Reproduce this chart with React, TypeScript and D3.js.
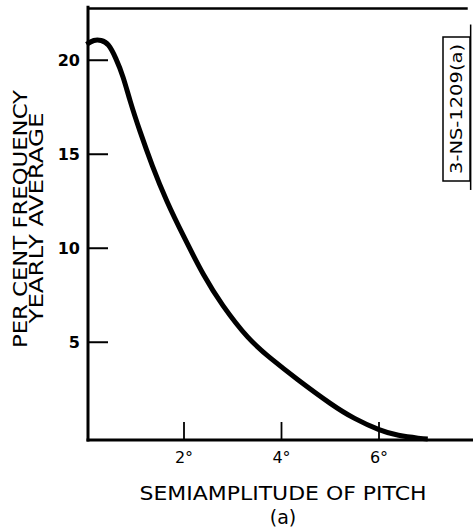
import React from 'react';
import * as d3 from 'd3';

// values (semiamplitude in degrees, per cent frequency)
const pitchDeg = [0, 0.15, 0.3, 0.45, 0.6, 0.75, 0.9, 1.1, 1.35, 1.65, 2.0, 2.4, 2.8, 3.3, 3.8, 4.35, 5.0, 5.5, 6.0, 6.4, 6.8, 7.0];
const percentFreq = [20.85, 21.05, 21.05, 20.8, 20.1, 19.1, 17.8, 16.2, 14.4, 12.5, 10.6, 8.6, 6.95, 5.3, 4.1, 2.98, 1.75, 0.95, 0.35, 0.05, -0.1, -0.15];
const xTicks = [2, 4, 6];
const xTickLabels = ['2°', '4°', '6°'];
const yTicks = [5, 10, 15, 20];
const yTickLabels = ['5', '10', '15', '20'];

const W = 473;
const H = 532;

export default function App() {
  const x = d3.scaleLinear().domain([0, 7.92]).range([86.5, 472.6]);
  const y = d3.scaleLinear().domain([-0.2, 22.8]).range([440, 7.6]);

  const pts = pitchDeg.map((d, i) => [d, percentFreq[i]] as [number, number]);
  const line = d3.line<[number, number]>()
    .x(d => x(d[0]))
    .y(d => y(d[1]))
    .curve(d3.curveNatural);

  const x0 = x(0) + 1.5;
  const yBase = y(-0.2);
  const font = '"DejaVu Sans", sans-serif';

  return (
    <svg width={W} height={H} style={{ position: 'absolute', left: 0, top: 0, background: '#fff' }}>
      {/* frame */}
      <line x1={x0} x2={x0} y1={y(22.9)} y2={yBase + 1.5} stroke="#000" strokeWidth={3} />
      <line x1={x0 - 1.5} x2={W} y1={yBase} y2={yBase} stroke="#000" strokeWidth={3} />
      <line x1={x0} x2={x(7.82)} y1={y(22.75)} y2={y(22.75)} stroke="#000" strokeWidth={2.5} />
      <line x1={x(7.88)} x2={x(7.88)} y1={y(21.9)} y2={y(13.1)} stroke="#000" strokeWidth={1.5} />

      {/* y ticks */}
      {yTicks.map((t, i) => (
        <g key={t}>
          <line x1={x0} x2={x0 + 20} y1={y(t)} y2={y(t)} stroke="#000" strokeWidth={2} />
          <text x={x0 - 8} y={y(t) + 6} fontSize={16} fontWeight="bold" textAnchor="end" fontFamily={font}>
            {yTickLabels[i]}
          </text>
        </g>
      ))}

      {/* x ticks */}
      {xTicks.map((t, i) => (
        <g key={t}>
          <line x1={x(t)} x2={x(t)} y1={yBase} y2={yBase - 18} stroke="#000" strokeWidth={1.8} />
          <text x={x(t)} y={yBase + 23} fontSize={16} textAnchor="middle" fontFamily={font}>
            {xTickLabels[i]}
          </text>
        </g>
      ))}

      {/* curve */}
      <path d={line(pts) || ''} fill="none" stroke="#000" strokeWidth={5} strokeLinecap="butt" />

      {/* axis titles */}
      <text x={283} y={500} fontSize={19} textAnchor="middle" fontFamily={font} textLength={287} lengthAdjust="spacingAndGlyphs">
        SEMIAMPLITUDE OF PITCH
      </text>
      <text x={283} y={524} fontSize={19} textAnchor="middle" fontFamily={font}>(a)</text>
      <text transform="translate(27,219) rotate(-90)" fontSize={19} textAnchor="middle" fontFamily={font} textLength={258} lengthAdjust="spacingAndGlyphs">
        PER CENT FREQUENCY
      </text>
      <text transform="translate(43,218) rotate(-90)" fontSize={19} textAnchor="middle" fontFamily={font} textLength={211} lengthAdjust="spacingAndGlyphs">
        YEARLY AVERAGE
      </text>

      {/* figure id box */}
      <rect x={443} y={37} width={27} height={144} fill="#fff" stroke="#000" strokeWidth={1.5} />
      <text transform="translate(462,109) rotate(-90)" fontSize={16} textAnchor="middle" fontFamily={font} textLength={130} lengthAdjust="spacingAndGlyphs">
        3-NS-1209(a)
      </text>
    </svg>
  );
}
